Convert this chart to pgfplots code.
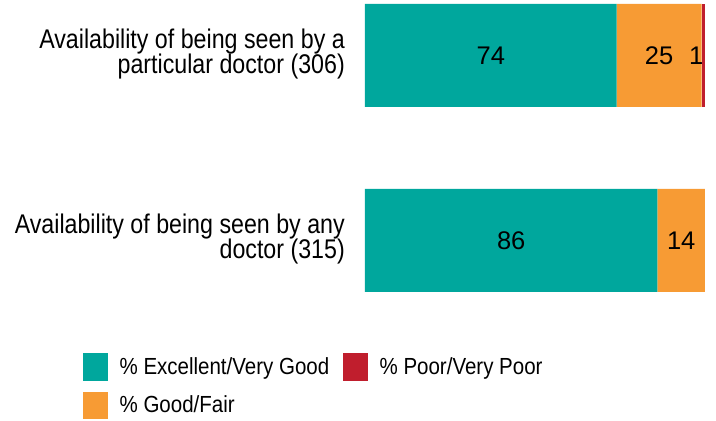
\documentclass[border=0pt]{standalone}
\usepackage{pgfplots}
\pgfplotsset{compat=1.18}
\usepackage{fontspec}
\setmainfont{Liberation Sans}
\usepackage{graphicx}
\definecolor{cTeal}{RGB}{0,167,157}
\definecolor{cOrange}{RGB}{247,155,52}
\definecolor{cRed}{RGB}{192,30,45}
\newcommand\lab[2]{\scalebox{0.86}[1]{\begin{tabular}{@{}r@{}}#1\\[-3pt]#2\end{tabular}}}
\newcommand\sx[1]{\scalebox{0.88}[1]{#1}}
\pgfplotsset{sqleg/.style={legend image code/.code={\fill[##1,draw=none] (0pt,-13.75pt) rectangle (25pt,13.75pt);}}}

\begin{document}
\begin{tikzpicture}
\useasboundingbox (0,0) rectangle (716pt,421pt);
\begin{axis}[
  at={(365pt,0pt)}, anchor=south west,
  scale only axis, width=340pt, height=421pt,
  xmin=0, xmax=100, ymin=0, ymax=421,
  xbar stacked, bar width=103pt,
  axis line style={draw=none}, xtick=\empty,
  ytick={180.5,365.5}, major tick length=0pt,
  yticklabels={{\lab{Availability of being seen by any}{doctor (315)}},{\lab{Availability of being seen by a}{particular doctor (306)}}},
  yticklabel style={inner sep=0pt, xshift=-20pt, font=\fontsize{27}{27}\selectfont},
  legend columns=2, transpose legend, legend cell align=left,
  legend style={draw=none, fill=none, inner sep=0pt, outer sep=0pt,
    at={(-0.8294,0.1615)}, anchor=north west,
    font=\fontsize{23.3}{23.3}\selectfont,
    column sep=11.6pt, row sep=11pt, nodes={inner sep=0pt},
    /tikz/every even column/.append style={column sep=13.7pt}},
]
\addplot[fill=cTeal, draw=none, sqleg] coordinates {(86,180.5) (74,365.5)};
\addlegendentry{\sx{\% Excellent/Very Good}}
\addplot[fill=cOrange, draw=none, sqleg] coordinates {(14,180.5) (25,365.5)};
\addlegendentry{\sx{\% Good/Fair}}
\addplot[fill=cRed, draw=none, sqleg] coordinates {(0,180.5) (1,365.5)};
\addlegendentry{\sx{\% Poor/Very Poor}}
\coordinate (v1) at (axis cs:37,365.5);
\coordinate (v2) at (axis cs:86.5,365.5);
\coordinate (v3) at (axis cs:100,365.5);
\coordinate (v4) at (axis cs:43,180.5);
\coordinate (v5) at (axis cs:93,180.5);
\end{axis}
\begin{scope}[every node/.style={font=\fontsize{25.5}{25.5}\selectfont}]
\node at (v1) {74};
\node at (v2) {25};
\node[anchor=east, inner sep=1.5pt] at (v3) {1};
\node at (v4) {86};
\node at (v5) {14};
\end{scope}
\end{tikzpicture}
\end{document}
